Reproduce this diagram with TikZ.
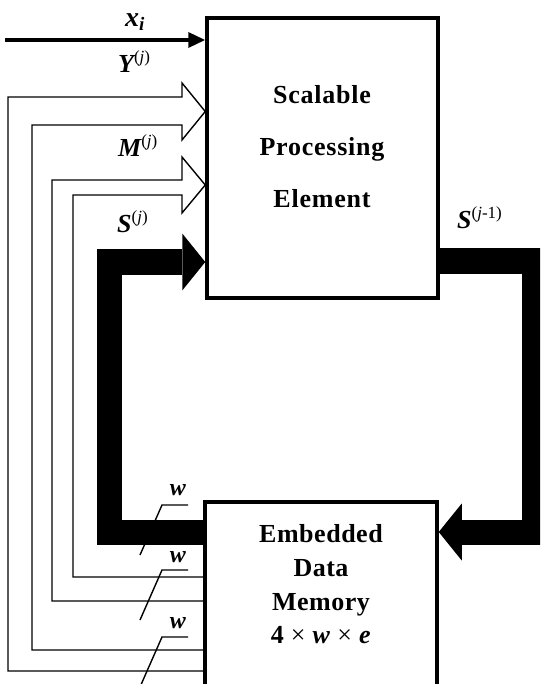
\documentclass[tikz,border=0pt]{standalone}
\usepackage{fontspec}
\setmainfont{Liberation Serif}
\usetikzlibrary{arrows.meta}
\newcommand{\mysup}[1]{\raisebox{0.42em}{\normalfont\fontsize{17}{17}\selectfont #1}}
\begin{document}
\begin{tikzpicture}[x=1pt,y=-1pt,
  box/.style={draw, line width=3.5pt, inner sep=0pt, fill=white},
  boxtext/.style={inner sep=0pt, anchor=north, align=center},
  thinline/.style={line width=1.4pt, line join=miter},
  thickbar/.style={line width=25pt, line join=miter, -{Triangle[length=23pt,width=57pt,line width=0pt]}},
  lbl/.style={inner sep=0pt, anchor=base west, font=\fontsize{26}{26}\selectfont\bfseries\itshape},
  wlbl/.style={inner sep=0pt, anchor=base, font=\fontsize{24}{24}\selectfont\bfseries\itshape}]
\useasboundingbox (0,0) rectangle (540,684);
\clip (0,0) rectangle (540,684);

% boxes
\node[box, minimum width=231pt, minimum height=280pt] (spe) at (322.5,158) {};
\node[box, minimum width=232pt, minimum height=190pt] (edm) at (321,597) {};

\node[boxtext, font=\fontsize{26}{52}\selectfont\bfseries\addfontfeatures{LetterSpace=3}] (spetext) at (322,85.5)
  {Scalable\\Processing\\Element};
\node[boxtext, font=\fontsize{26}{33.7}\selectfont\bfseries\addfontfeatures{LetterSpace=2}] (edmtext) at (321,524.5)
  {Embedded\\Data\\Memory\\4 {\mdseries\texttimes} \textit{w} {\mdseries\texttimes} \textit{e}};

% x_i input
\coordinate (xin) at (5,40);
\draw[line width=3.5pt, -{Triangle[length=17pt,width=15pt]}] (xin) -- (xin -| spe.west);

% hollow bus arrows
\coordinate (yY) at (0,111.5);
\coordinate (yM) at (0,185);
\coordinate (b1) at (0,671);
\coordinate (b2) at (0,650);
\coordinate (b3) at (0,601);
\coordinate (b4) at (0,577);
\draw[thinline] (b1 -| edm.west) -- (8,671) -- (8,97) -- (182,97) -- (182,83)
  -- (yY -| spe.west) -- (182,140) -- (182,125) -- (32,125) -- (32,650) -- (b2 -| edm.west);
\draw[thinline] (b3 -| edm.west) -- (52,601) -- (52,180) -- (182,180) -- (182,157)
  -- (yM -| spe.west) -- (182,213) -- (182,195) -- (73,195) -- (73,577) -- (b4 -| edm.west);

% bus width marks
\draw[thinline] (140,555) -- (162,505) -- (188,505);
\draw[thinline] (140,620) -- (162,570) -- (188,570);
\draw[thinline] (140,687) -- (162,637) -- (188,637);
\node[wlbl] (w1) at (178,495) {w};
\node[wlbl] (w2) at (178,562) {w};
\node[wlbl] (w3) at (178,628) {w};

% thick state loop
\coordinate (yL) at (0,532);
\coordinate (yS) at (0,262);
\draw[thickbar] (yL -| edm.west) -- (109,532) -- (109,262) -- (yS -| spe.west);
\coordinate (yR) at (0,261);
\draw[thickbar] (yR -| spe.east) -- (534,261) -- (534,532) -- (yL -| edm.east);

% labels
\node[lbl, font=\fontsize{28}{28}\selectfont\bfseries\itshape] (lx) at (125,27)
  {x\raisebox{-0.12em}{\fontsize{19}{19}\selectfont i}};
\node[lbl] (lY) at (118,73) {Y\mysup{(\textit{j})}};
\node[lbl] (lM) at (118,157) {M\mysup{(\textit{j})}};
\node[lbl] (lS) at (117,233) {S\mysup{(\textit{j})}};
\node[lbl] (lS1) at (457,229) {S\mysup{(\textit{j}-1)}};
\end{tikzpicture}
\end{document}
